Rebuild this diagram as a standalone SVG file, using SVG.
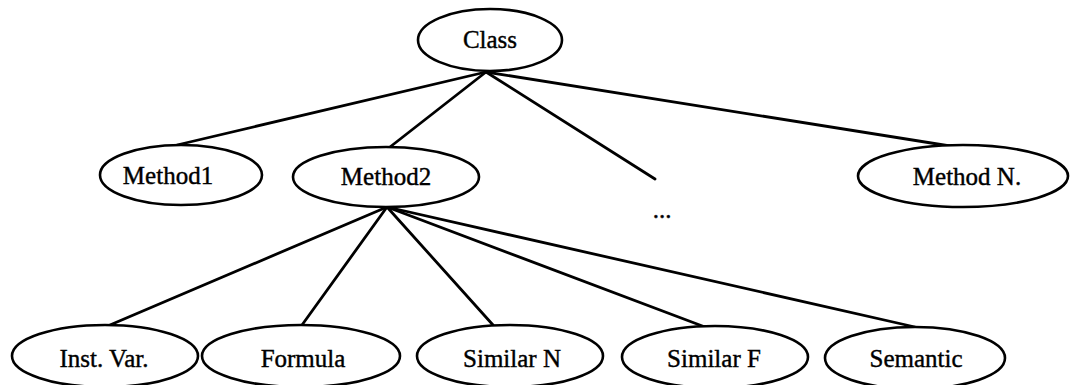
<svg xmlns="http://www.w3.org/2000/svg" width="1070" height="385" viewBox="0 0 1070 385">
<style>
.n ellipse{fill:#fff;stroke:#000;stroke-width:2.6}
.n text{font-family:"Liberation Serif","Times New Roman",serif;font-size:25px;fill:#000;stroke:#000;stroke-width:0.4;text-anchor:middle}
#edges line{stroke:#000;stroke-width:2.8;stroke-linecap:round}
</style>
<rect width="1070" height="385" fill="#fff"/>
<g id="edges">
<line x1="486" y1="72" x2="177" y2="145"/>
<line x1="486" y1="72" x2="390" y2="147"/>
<line x1="486" y1="72" x2="655" y2="179"/>
<line x1="486" y1="72" x2="950" y2="146"/>
<line x1="387" y1="207" x2="110" y2="325"/>
<line x1="387" y1="207" x2="302" y2="325"/>
<line x1="387" y1="207" x2="493" y2="325"/>
<line x1="387" y1="207" x2="705" y2="327"/>
<line x1="387" y1="207" x2="915" y2="327"/>
</g>
<g id="class" class="n"><ellipse cx="490" cy="40" rx="72" ry="31"/><text x="490" y="48">Class</text></g>
<g id="method1" class="n"><ellipse cx="181" cy="175" rx="81" ry="30"/><text x="168" y="184">Method1</text></g>
<g id="method2" class="n"><ellipse cx="386" cy="177" rx="93" ry="30"/><text x="386" y="185">Method2</text></g>
<g id="ellipsis" class="n"><text x="662" y="218">...</text></g>
<g id="methodN" class="n"><ellipse cx="963" cy="176" rx="105" ry="31"/><text x="967" y="185">Method N.</text></g>
<g id="instvar" class="n"><ellipse cx="105" cy="356" rx="93" ry="31"/><text x="104" y="367">Inst. Var.</text></g>
<g id="formula" class="n"><ellipse cx="301" cy="356" rx="99" ry="31"/><text x="303" y="367">Formula</text></g>
<g id="similarN" class="n"><ellipse cx="510" cy="356" rx="93" ry="31"/><text x="512" y="367">Similar N</text></g>
<g id="similarF" class="n"><ellipse cx="715" cy="357" rx="93" ry="31"/><text x="714" y="367">Similar F</text></g>
<g id="semantic" class="n"><ellipse cx="915" cy="358" rx="90" ry="31"/><text x="916" y="367">Semantic</text></g>
</svg>
